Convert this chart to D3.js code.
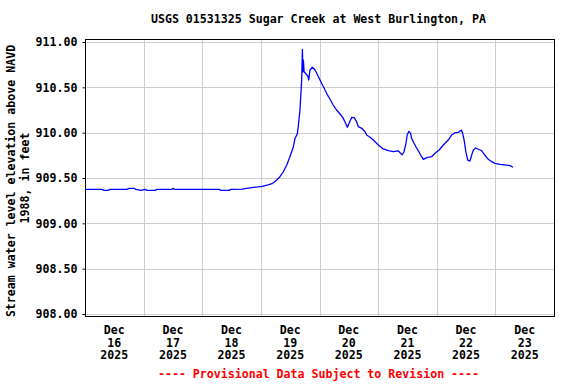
<!DOCTYPE html>
<html>
<head>
<meta charset="utf-8">
<script src="https://cdn.jsdelivr.net/npm/d3@7"></script>
<style>
  html, body { margin: 0; padding: 0; background: #fff; }
  svg { display: block; }
  text { font-family: "DejaVu Sans Mono", "Liberation Mono", monospace; font-weight: bold; font-size: 11.6px; }
</style>
</head>
<body>
<svg id="chart" width="576" height="384"></svg>
<script>
// ---- data ----
const titleText = "USGS 01531325 Sugar Creek at West Burlington, PA";
const yLabelLines = ["Stream water level elevation above NAVD", "1988, in feet"];
const footerText = "---- Provisional Data Subject to Revision ----";
const startDate = "2025-12-16T00:00:00Z";
const endDate = "2025-12-24T00:00:00Z";
const yTicks = [908.0, 908.5, 909.0, 909.5, 910.0, 910.5, 911.0];
const dayLabels = ["16", "17", "18", "19", "20", "21", "22", "23"];
const monthLabel = "Dec";
const yearLabel = "2025";

// hours after Dec 16 00:00 and gage height values (ft)
const hours = [0, 7.0, 7.8, 9.4, 10.2, 17.2, 18.0, 20.1, 20.9, 22.9, 24.6, 25.4, 28.7, 29.5, 35.6, 36.0, 36.8,
  54.9, 55.7, 59.0, 59.8, 64.3, 67.5, 70.8, 72.5, 74.9, 76.6, 78.5, 79.8, 81.2, 82.6, 83.9, 85.3, 86.0, 86.9,
  87.3, 88.0, 88.4, 88.7, 89.0, 89.2, 89.4, 89.7, 90.5, 91.2, 91.6, 92.1, 93.1, 94.2, 95.2, 96.4, 97.6, 98.9,
  100.3, 101.6, 103.0, 104.4, 105.5, 106.4, 107.4, 108.2, 109.2, 110.2, 111.2, 111.9, 113.3, 114.6, 115.3,
  116.7, 118.0, 120.1, 122.1, 124.2, 126.2, 128.3, 129.0, 129.9, 130.6, 131.4, 131.9, 132.6, 133.3, 133.7,
  134.7, 135.8, 136.9, 137.8, 138.5, 139.9, 141.9, 143.3, 145.0, 146.7, 148.7, 150.1, 151.5, 152.9, 154.1,
  154.6, 155.2, 155.9, 156.7, 157.6, 158.3, 159.0, 159.9, 161.0, 162.4, 163.8, 165.1, 166.5, 167.8, 169.9,
  172.6, 174.0, 175.2];
const levels = [909.375, 909.375, 909.364, 909.364, 909.375, 909.375, 909.386, 909.386, 909.375, 909.364,
  909.375, 909.364, 909.364, 909.375, 909.375, 909.386, 909.375,
  909.375, 909.364, 909.364, 909.375, 909.378, 909.392, 909.401, 909.408, 909.423, 909.437, 909.478, 909.514,
  909.569, 909.643, 909.735, 909.845, 909.938, 909.985,
  910.066, 910.250, 910.434, 910.581, 910.919, 910.672, 910.801, 910.672, 910.647, 910.625, 910.581, 910.691,
  910.721, 910.691, 910.636, 910.570, 910.507, 910.434,
  910.368, 910.305, 910.250, 910.206, 910.169, 910.121, 910.059, 910.110, 910.169, 910.165, 910.121, 910.066,
  910.048, 910.011, 909.974,
  909.949, 909.919, 909.864, 909.820, 909.801, 909.790, 909.798, 909.779, 909.757, 909.790, 909.883, 909.974,
  910.015, 909.993, 909.938,
  909.883, 909.828, 909.779, 909.735, 909.706, 909.724, 909.735, 909.772, 909.809, 909.864, 909.919, 909.974,
  910.000, 910.004, 910.029,
  909.993, 909.919, 909.790, 909.698, 909.687, 909.754, 909.809, 909.831, 909.817, 909.801, 909.748, 909.706,
  909.680, 909.662, 909.651,
  909.643, 909.636, 909.618];

// ---- chart ----
const svg = d3.select("#chart");
const t0 = new Date(startDate);
const t1 = new Date(endDate);
const data = hours.map((h, i) => ({ t: new Date(t0.getTime() + h * 3600e3), v: levels[i] }));

const x = d3.scaleUtc().domain([t0, t1]).range([85, 554]);
const y = d3.scaleLinear().domain([908, 911]).range([314, 42]);

const frameTop = 39.5, frameBottom = 316.5;

// gridlines
const days = d3.utcDay.range(t0, d3.utcDay.offset(t1, 1));
svg.append("g").selectAll("line.v")
  .data(days.slice(1, -1))
  .join("line")
  .attr("x1", d => Math.round(x(d)) + 0.5).attr("x2", d => Math.round(x(d)) + 0.5)
  .attr("y1", frameTop).attr("y2", frameBottom)
  .attr("stroke", "#cccccc").attr("stroke-width", 1);

svg.append("g").selectAll("line.h")
  .data(yTicks)
  .join("line")
  .attr("x1", 85).attr("x2", 554)
  .attr("y1", d => Math.round(y(d)) + 0.5).attr("y2", d => Math.round(y(d)) + 0.5)
  .attr("stroke", "#cccccc").attr("stroke-width", 1);

// y axis via d3 axis (ticks + labels)
const yAxis = d3.axisLeft(y)
  .tickValues(yTicks)
  .tickFormat(d3.format(".2f"))
  .tickSize(3)
  .tickPadding(5);
const gy = svg.append("g").attr("transform", "translate(85.5,0)").call(yAxis);
gy.select(".domain").remove();
gy.selectAll(".tick line").attr("stroke", "#000");
gy.selectAll(".tick text")
  .attr("fill", "#000")
  .style("font-family", '"DejaVu Sans Mono", monospace')
  .style("font-weight", "bold")
  .style("font-size", "11.6px");

// frame
svg.append("rect")
  .attr("x", 85.5).attr("y", frameTop)
  .attr("width", 469).attr("height", frameBottom - frameTop)
  .attr("fill", "none").attr("stroke", "#000").attr("stroke-width", 1);

// data line
const line = d3.line().x(d => x(d.t)).y(d => y(d.v));
svg.append("path")
  .datum(data)
  .attr("d", line)
  .attr("fill", "none")
  .attr("stroke", "#0000ff")
  .attr("stroke-width", 1.3)
  .attr("stroke-linejoin", "round");

// x labels (centered at noon each day)
const labelDays = days.slice(0, 8);
const xl = svg.append("g").selectAll("g")
  .data(labelDays)
  .join("g")
  .attr("transform", d => `translate(${x(d3.utcHour.offset(d, 12))},0)`);
xl.append("text").attr("y", 334).attr("text-anchor", "middle").text(monthLabel);
xl.append("text").attr("y", 346.5).attr("text-anchor", "middle").text((d, i) => dayLabels[i]);
xl.append("text").attr("y", 359).attr("text-anchor", "middle").text(yearLabel);

// title
svg.append("text").attr("x", 318.5).attr("y", 23).attr("text-anchor", "middle").text(titleText);

// y label
svg.append("text")
  .attr("transform", "translate(15,181) rotate(-90)")
  .attr("text-anchor", "middle").text(yLabelLines[0]);
svg.append("text")
  .attr("transform", "translate(29,178) rotate(-90)")
  .attr("text-anchor", "middle").text(yLabelLines[1]);

// footer
svg.append("text").attr("x", 318.5).attr("y", 378).attr("text-anchor", "middle")
  .attr("fill", "#ff0000").text(footerText);
</script>
</body>
</html>
